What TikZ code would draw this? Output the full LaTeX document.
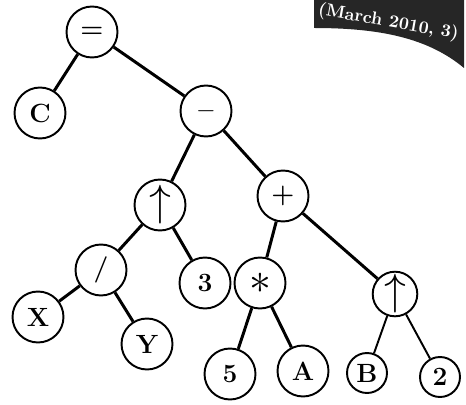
\documentclass[tikz,border=0pt]{standalone}
\usepackage{amsmath, amssymb}
\usepackage{tikz}

\begin{document}
\begin{tikzpicture}[x=0.02cm, y=-0.02cm,
  every node/.style={font=\fontsize{15}{18}\selectfont\bfseries},
  opnode/.style={draw, circle, line width=1.1pt, minimum size=1.02cm, inner sep=0pt},
  smallnode/.style={opnode, minimum size=0.8cm},
  branch/.style={line width=1.7pt}]
  \useasboundingbox (0,0) rectangle (466,405);
  % banner in the corner
  \begin{scope}
    \clip (314,0) -- (464,0) -- (464,68) .. controls (428,38) and (380,28) .. (314,28) -- cycle;
    \fill[black!85] (310,0) rectangle (466,70);
    \node[text=white, rotate=-10, font=\fontsize{10}{12}\selectfont\bfseries, anchor=west, inner sep=0pt] (banner) at (318,10) {(March 2010, 3)};
  \end{scope}
  % nodes
  \node[opnode] (eq) at (92,32) {=};
  \node[opnode] (c) at (40,113) {C};
  \node[opnode] (minus) at (206,111) {$-$};
  \node[opnode] (upa) at (160,205) {\fontsize{30}{30}\selectfont$\uparrow$};
  \node[opnode] (plus) at (283,196) {+};
  \node[opnode] (slash) at (101,270) {/};
  \node[opnode] (three) at (205,283) {3};
  \node[opnode] (star) at (260,283) {\fontsize{34}{34}\selectfont$\ast$};
  \node[opnode] (x) at (38,317) {X};
  \node[opnode] (y) at (147,344) {Y};
  \node[opnode] (five) at (230,374) {5};
  \node[opnode] (a) at (303,371) {A};
  \node[smallnode] (upb) at (395,294) {\fontsize{24}{24}\selectfont$\uparrow$};
  \node[smallnode] (b) at (367,373) {B};
  \node[smallnode] (two) at (440,377) {2};
  % branches
  \draw[branch] (eq) -- (c);
  \draw[branch] (eq) -- (minus);
  \draw[branch] (minus) -- (upa);
  \draw[branch] (minus) -- (plus);
  \draw[branch] (upa) -- (slash);
  \draw[branch] (upa) -- (three);
  \draw[branch] (slash) -- (x);
  \draw[branch] (slash) -- (y);
  \draw[branch] (plus) -- (star);
  \draw[branch] (plus) -- (upb);
  \draw[branch] (star) -- (five);
  \draw[branch] (star) -- (a);
  \draw[branch, line width=1.1pt] (upb) -- (b);
  \draw[branch, line width=1.1pt] (upb) -- (two);
\end{tikzpicture}
\end{document}
